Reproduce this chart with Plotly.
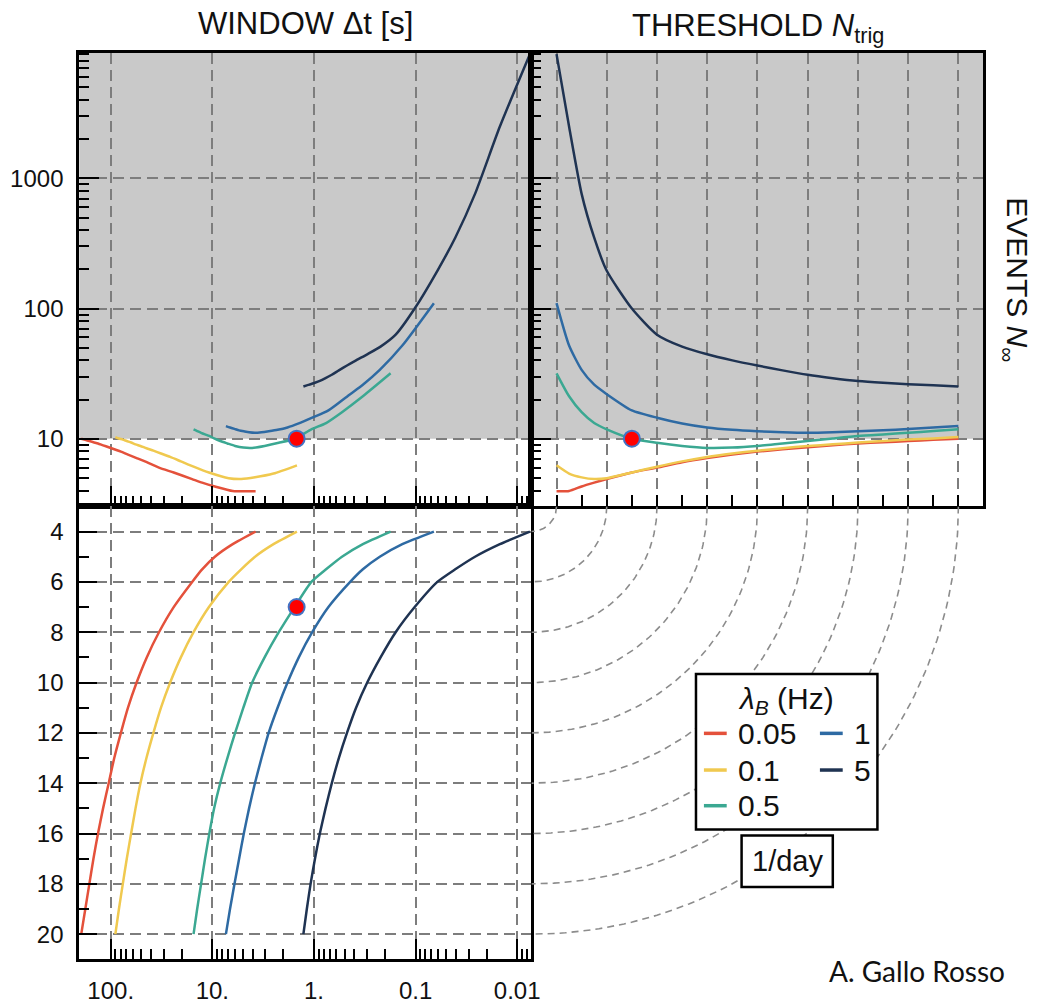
import numpy as np
import plotly.graph_objects as go

W, H = 1050, 1004

# ---------------- data ----------------
N_trig = [4, 4.5, 5, 5.5, 6, 7, 8, 9, 10, 11, 12, 13, 14, 15, 16, 17, 18, 19, 20]
lam_labels = ["0.05", "0.1", "0.5", "1", "5"]
lam_colors = ["#e4513b", "#f0c94f", "#3ba892", "#2e6aa3", "#1f3352"]

# window Delta t [s] for each background rate (vs N_trig)
window_005 = [3.75, 6.3, 9.44, 12.6, 15.8, 24, 33.5, 44.2, 55.6, 67.6, 79.4, 92.3, 104.7, 118.9, 133.4, 147.9, 162.2, 177.8, 195]
window_01 = [1.47, 2.5, 3.8, 5.2, 6.9, 10.8, 15.3, 20.4, 26, 32, 38, 44.5, 51, 57, 63, 69.5, 76, 83, 90]
window_05 = [0.176, 0.33, 0.53, 0.76, 1.06, 1.55, 2.22, 3.06, 4.05, 4.95, 5.97, 7.11, 8.36, 9.6, 10.7, 11.8, 12.9, 14.1, 15.3]
window_1 = [0.066, 0.135, 0.225, 0.33, 0.44, 0.72, 1.04, 1.41, 1.82, 2.28, 2.79, 3.28, 3.81, 4.35, 4.9, 5.45, 6.05, 6.7, 7.35]
window_5 = [0.0075, 0.0148, 0.026, 0.0407, 0.061, 0.102, 0.157, 0.221, 0.299, 0.385, 0.473, 0.569, 0.667, 0.769, 0.875, 0.977, 1.079, 1.175, 1.27]

# events N_inf for each background rate (vs N_trig)
events_005 = [3.95, 3.97, 4.3, 4.6, 4.9, 5.5, 6.0, 6.6, 7.1, 7.55, 7.96, 8.3, 8.6, 8.9, 9.2, 9.4, 9.6, 9.8, 10.0]
events_01 = [6.25, 5.4, 5.05, 4.9, 4.97, 5.5, 6.1, 6.7, 7.25, 7.7, 8.1, 8.45, 8.8, 9.05, 9.35, 9.6, 9.85, 10.05, 10.3]
events_05 = [31.8, 21.2, 16, 13.2, 11.8, 10.0, 9.3, 8.8, 8.5, 8.55, 8.8, 9.2, 9.6, 10.05, 10.5, 10.8, 11.1, 11.45, 11.8]
events_1 = [110, 52, 33.8, 26, 22, 16.5, 14.5, 13.1, 12.2, 11.7, 11.4, 11.2, 11.1, 11.2, 11.4, 11.6, 11.9, 12.2, 12.5]
events_5 = [9000, 2500, 760, 350, 195, 100, 63, 51, 44.5, 40, 36.5, 33.5, 31, 29.2, 27.8, 26.9, 26.2, 25.7, 25.2]

windows = [window_005, window_01, window_05, window_1, window_5]
events = [events_005, events_01, events_05, events_1, events_5]

# highlighted working point
point_window = [1.48]
point_ntrig = [7.0]
point_events = [10]

# tick labels
window_ticks = [100, 10, 1, 0.1, 0.01]
window_ticktext = ["100.", "10.", "1.", "0.1", "0.01"]
events_ticks = [10, 100, 1000]
events_ticktext = ["10", "100", "1000"]
ntrig_ticks = [4, 6, 8, 10, 12, 14, 16, 18, 20]
ntrig_minor = [5, 7, 9, 11, 13, 15, 17, 19]
shade_threshold = 10

# ---------------- layout helpers ----------------
def fx(px):
    return px / W

def fy(py):
    return 1 - py / H

PX_L, PX_M, PX_R = 80, 536, 992
PY_T, PY_M, PY_B = 53.5, 511, 968

minor_window = [k * 10 ** e for e in range(-3, 3) for k in range(2, 10)]
minor_window = [v for v in minor_window if 0.0072 < v < 203]
minor_events = [k * 10 ** e for e in range(0, 4) for k in range(2, 10)]
minor_events = [v for v in minor_events if 3.02 < v < 9100]

GRID = "#7d7d7d"
FONT = "Liberation Sans, Arial, sans-serif"

common = dict(showline=True, linecolor="black", linewidth=3, mirror=True,
              ticks="inside", tickcolor="black", tickwidth=2,
              showgrid=True, gridcolor=GRID, gridwidth=2, griddash="11px,6px",
              zeroline=False, tickfont=dict(family=FONT, size=24, color="#111"),
              ticklabelstandoff=8)

fig = go.Figure()

# curves
for lab, col, dt, ev in zip(lam_labels, lam_colors, windows, events):
    ln = dict(color=col, width=2.5, shape="spline", smoothing=0.6)
    fig.add_trace(go.Scatter(x=dt, y=ev, xaxis="x", yaxis="y", mode="lines", line=ln,
                             showlegend=False, name=lab))
    fig.add_trace(go.Scatter(x=N_trig, y=ev, xaxis="x2", yaxis="y2", mode="lines", line=ln,
                             showlegend=False, name=lab))
    fig.add_trace(go.Scatter(x=dt, y=N_trig, xaxis="x3", yaxis="y3", mode="lines", line=ln,
                             showlegend=False, name=lab))

# working point markers
mk = dict(color="#ff0000", size=16, line=dict(color="#4472c4", width=2))
fig.add_trace(go.Scatter(x=point_window, y=point_events, xaxis="x", yaxis="y", mode="markers",
                         marker=mk, showlegend=False))
fig.add_trace(go.Scatter(x=point_ntrig, y=point_events, xaxis="x2", yaxis="y2", mode="markers",
                         marker=mk, showlegend=False))
fig.add_trace(go.Scatter(x=point_window, y=point_ntrig, xaxis="x3", yaxis="y3", mode="markers",
                         marker=mk, showlegend=False))

# quarter-circle guides linking N_trig grid lines
theta = np.linspace(0, np.pi / 2, 80)
for nv in ntrig_ticks:
    r = nv - 3
    fig.add_trace(go.Scatter(x=3 + r * np.cos(theta), y=3 + r * np.sin(theta),
                             xaxis="x4", yaxis="y4", mode="lines",
                             line=dict(color="#8c8c8c", width=1.6, dash="7px,5px"),
                             showlegend=False, hoverinfo="skip"))

log_x = dict(type="log", range=[2.309, -2.14], tickmode="array", tickvals=window_ticks,
             ticktext=window_ticktext, ticklen=20,
             minor=dict(tickmode="array", tickvals=minor_window, ticks="inside", ticklen=10,
                        tickwidth=2, tickcolor="black", showgrid=False))
log_y = dict(type="log", range=[0.48, 3.963], tickmode="array", tickvals=events_ticks,
             ticktext=events_ticktext, ticklen=20,
             minor=dict(tickmode="array", tickvals=minor_events, ticks="inside", ticklen=10,
                        tickwidth=2, tickcolor="black", showgrid=False))
lin_n_x = dict(range=[3, 21], tickmode="array", tickvals=ntrig_ticks, ticklen=11,
               minor=dict(tickmode="array", tickvals=ntrig_minor, ticks="inside", ticklen=11,
                          tickwidth=2, tickcolor="black", showgrid=False))
lin_n_y = dict(range=[21, 3], tickmode="array", tickvals=ntrig_ticks,
               ticktext=[str(v) for v in ntrig_ticks], ticklen=18,
               minor=dict(tickmode="array", tickvals=ntrig_minor, ticks="inside", ticklen=10,
                          tickwidth=2, tickcolor="black", showgrid=False))

fig.update_layout(
    width=W, height=H, autosize=False,
    margin=dict(l=0, r=0, t=0, b=0),
    paper_bgcolor="white", plot_bgcolor="white",
    font=dict(family=FONT, color="#111"),
    xaxis=dict(**common, **log_x, domain=[fx(PX_L), fx(PX_M)], anchor="y", showticklabels=False),
    yaxis=dict(**common, **log_y, domain=[fy(PY_M), fy(PY_T)], anchor="x"),
    xaxis2=dict(**common, **lin_n_x, domain=[fx(PX_M), fx(PX_R)], anchor="y2", showticklabels=False),
    yaxis2=dict(**common, **log_y, domain=[fy(PY_M), fy(PY_T)], anchor="x2", showticklabels=False),
    xaxis3=dict(**common, **log_x, domain=[fx(PX_L), fx(PX_M)], anchor="y3"),
    yaxis3=dict(**common, **lin_n_y, domain=[fy(PY_B), fy(PY_M)], anchor="x3"),
    xaxis4=dict(range=[3, 21], domain=[fx(PX_M), fx(PX_R)], anchor="y4", visible=False),
    yaxis4=dict(range=[21, 3], domain=[fy(PY_B), fy(PY_M)], anchor="x4", visible=False),
)

shapes = []
# grey region above 10 events
for xr, yr in (("x domain", "y"), ("x2 domain", "y2")):
    shapes.append(dict(type="rect", xref=xr, yref=yr, x0=0, x1=1,
                       y0=shade_threshold, y1=1e5,
                       fillcolor="#c9c9c9", line=dict(width=0), layer="below"))

# legend box and 1/day box
shapes.append(dict(type="rect", xref="paper", yref="paper", x0=fx(702), x1=fx(885),
                   y0=fy(837), y1=fy(680), fillcolor="white",
                   line=dict(color="black", width=2.5), layer="above"))
shapes.append(dict(type="rect", xref="paper", yref="paper", x0=fx(748), x1=fx(840),
                   y0=fy(895), y1=fy(843), fillcolor="white",
                   line=dict(color="black", width=2.5), layer="above"))

legend_pos = [(710, 740), (710, 777), (710, 813), (827, 740), (827, 777)]
annotations = []
for (lx, ly), lab, col in zip(legend_pos, lam_labels, lam_colors):
    shapes.append(dict(type="line", xref="paper", yref="paper", x0=fx(lx), x1=fx(lx + 23),
                       y0=fy(ly), y1=fy(ly), line=dict(color=col, width=3.5), layer="above"))
    annotations.append(dict(x=fx(lx + 32), y=fy(ly), xref="paper", yref="paper", text=lab,
                            showarrow=False, xanchor="left", yanchor="middle",
                            font=dict(family=FONT, size=30, color="#111")))
annotations.append(dict(x=fx(793), y=fy(707), xref="paper", yref="paper",
                        text="<i>λ<sub>B</sub></i> (Hz)", showarrow=False,
                        xanchor="center", yanchor="middle",
                        font=dict(family=FONT, size=30, color="#111")))
annotations.append(dict(x=fx(794), y=fy(869), xref="paper", yref="paper", text="1/day",
                        showarrow=False, xanchor="center", yanchor="middle",
                        font=dict(family=FONT, size=29, color="#111")))
annotations.append(dict(x=fx(308), y=fy(24), xref="paper", yref="paper", text="WINDOW Δt [s]",
                        showarrow=False, xanchor="center", yanchor="middle",
                        font=dict(family=FONT, size=31, color="#111")))
annotations.append(dict(x=fx(765), y=fy(28), xref="paper", yref="paper",
                        text="THRESHOLD <i>N</i><sub>trig</sub>",
                        showarrow=False, xanchor="center", yanchor="middle",
                        font=dict(family=FONT, size=31, color="#111")))
annotations.append(dict(x=fx(1024), y=fy(282), xref="paper", yref="paper",
                        text="EVENTS <i>N</i><sub>∞</sub>", textangle=90,
                        showarrow=False, xanchor="center", yanchor="middle",
                        font=dict(family=FONT, size=30, color="#111")))
annotations.append(dict(x=fx(925), y=fy(980), xref="paper", yref="paper", text="A. Gallo Rosso",
                        showarrow=False, xanchor="center", yanchor="middle",
                        font=dict(family="Lato, Open Sans, sans-serif", size=28, color="#111")))

fig.update_layout(shapes=shapes, annotations=annotations)
fig.write_html("out.html")
